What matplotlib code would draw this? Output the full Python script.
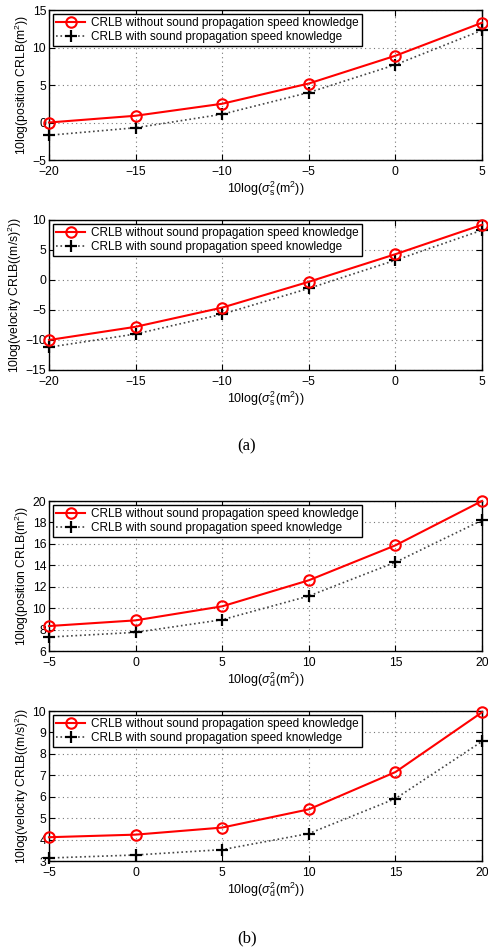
import matplotlib
matplotlib.use("Agg")
import matplotlib.pyplot as plt
import numpy as np

plt.rcParams['font.family'] = ['Liberation Sans', 'DejaVu Sans']
plt.rcParams['mathtext.fontset'] = 'custom'
plt.rcParams['mathtext.rm'] = 'Liberation Sans'
plt.rcParams['mathtext.it'] = 'Liberation Sans:italic'
plt.rcParams['mathtext.sf'] = 'Liberation Sans'

# (a) sweep over sigma_s^2
x_s = [-20, -15, -10, -5, 0, 5]
pos_s_without = [0.0, 0.9, 2.5, 5.2, 8.9, 13.3]
pos_s_with = [-1.7, -0.7, 1.1, 4.0, 7.7, 12.3]
vel_s_without = [-10.0, -7.8, -4.6, -0.3, 4.3, 9.2]
vel_s_with = [-11.2, -9.0, -5.7, -1.4, 3.3, 8.3]

# (b) sweep over sigma_d^2
x_d = [-5, 0, 5, 10, 15, 20]
pos_d_without = [8.33, 8.86, 10.17, 12.6, 15.86, 20.0]
pos_d_with = [7.3, 7.74, 8.92, 11.13, 14.28, 18.2]
vel_d_without = [4.11, 4.23, 4.56, 5.41, 7.15, 9.94]
vel_d_with = [3.14, 3.28, 3.53, 4.28, 5.91, 8.58]

label_without = 'CRLB without sound propagation speed knowledge'
label_with = 'CRLB with sound propagation speed knowledge'

W, H = 488, 952
fig = plt.figure(figsize=(W / 100, H / 100), dpi=100)


def panel(top_px, x, y_without, y_with, ylim, yticks, ylabel, xlabel):
    left, right = 49, 482
    bottom = top_px + 150
    ax = fig.add_axes([left / W, 1 - bottom / H, (right - left) / W, 150 / H])
    ax.plot(x, y_without, '-o', color='red', lw=1.5, ms=7.5, mfc='none',
            mew=1.5, label=label_without, clip_on=False, zorder=4)
    ax.plot(x, y_with, ':+', color='#444444', lw=1.2, ms=9, mew=1.6,
            mec='black', label=label_with, clip_on=False, zorder=3)
    ax.set_xlim(x[0], x[-1])
    ax.set_ylim(*ylim)
    ax.set_xticks(x)
    ax.set_yticks(yticks)
    ax.grid(True, linestyle=(0, (1, 3)), color='#777777', lw=0.8)
    ax.tick_params(direction='in', top=True, right=True, labelsize=8.7, length=4)
    ax.tick_params(axis='x', pad=4.5)
    ax.tick_params(axis='y', pad=2)
    for s in ax.spines.values():
        s.set_linewidth(1.0)
    ax.set_ylabel(ylabel, fontsize=8.7, labelpad=1)
    ax.set_xlabel(xlabel, fontsize=9, labelpad=1)
    leg = ax.legend(loc='upper left', fontsize=8.45, fancybox=False, framealpha=1,
                    edgecolor='black', borderaxespad=0.35, handlelength=2.5,
                    borderpad=0.25, labelspacing=0.15, handletextpad=0.5)
    leg.get_frame().set_linewidth(1.0)
    return ax


xs_label = r'10log($\sigma_\mathrm{s}^2$(m$^2$))'
xd_label = r'10log($\sigma_\mathrm{d}^2$(m$^2$))'

panel(10, x_s, pos_s_without, pos_s_with, (-5, 15), [-5, 0, 5, 10, 15],
      r'10log(position CRLB(m$^2$))', xs_label)
panel(220, x_s, vel_s_without, vel_s_with, (-15, 10), [-15, -10, -5, 0, 5, 10],
      r'10log(velocity CRLB((m/s)$^2$))', xs_label)
panel(501, x_d, pos_d_without, pos_d_with, (6, 20), [6, 8, 10, 12, 14, 16, 18, 20],
      r'10log(position CRLB(m$^2$))', xd_label)
panel(711, x_d, vel_d_without, vel_d_with, (3, 10), [3, 4, 5, 6, 7, 8, 9, 10],
      r'10log(velocity CRLB((m/s)$^2$))', xd_label)

fig.text(247 / W, 1 - 446 / H, '(a)', ha='center', va='center',
         family='Liberation Serif', fontsize=12)
fig.text(247 / W, 1 - 938 / H, '(b)', ha='center', va='center',
         family='Liberation Serif', fontsize=12)

fig.savefig('out.png', dpi=100)
